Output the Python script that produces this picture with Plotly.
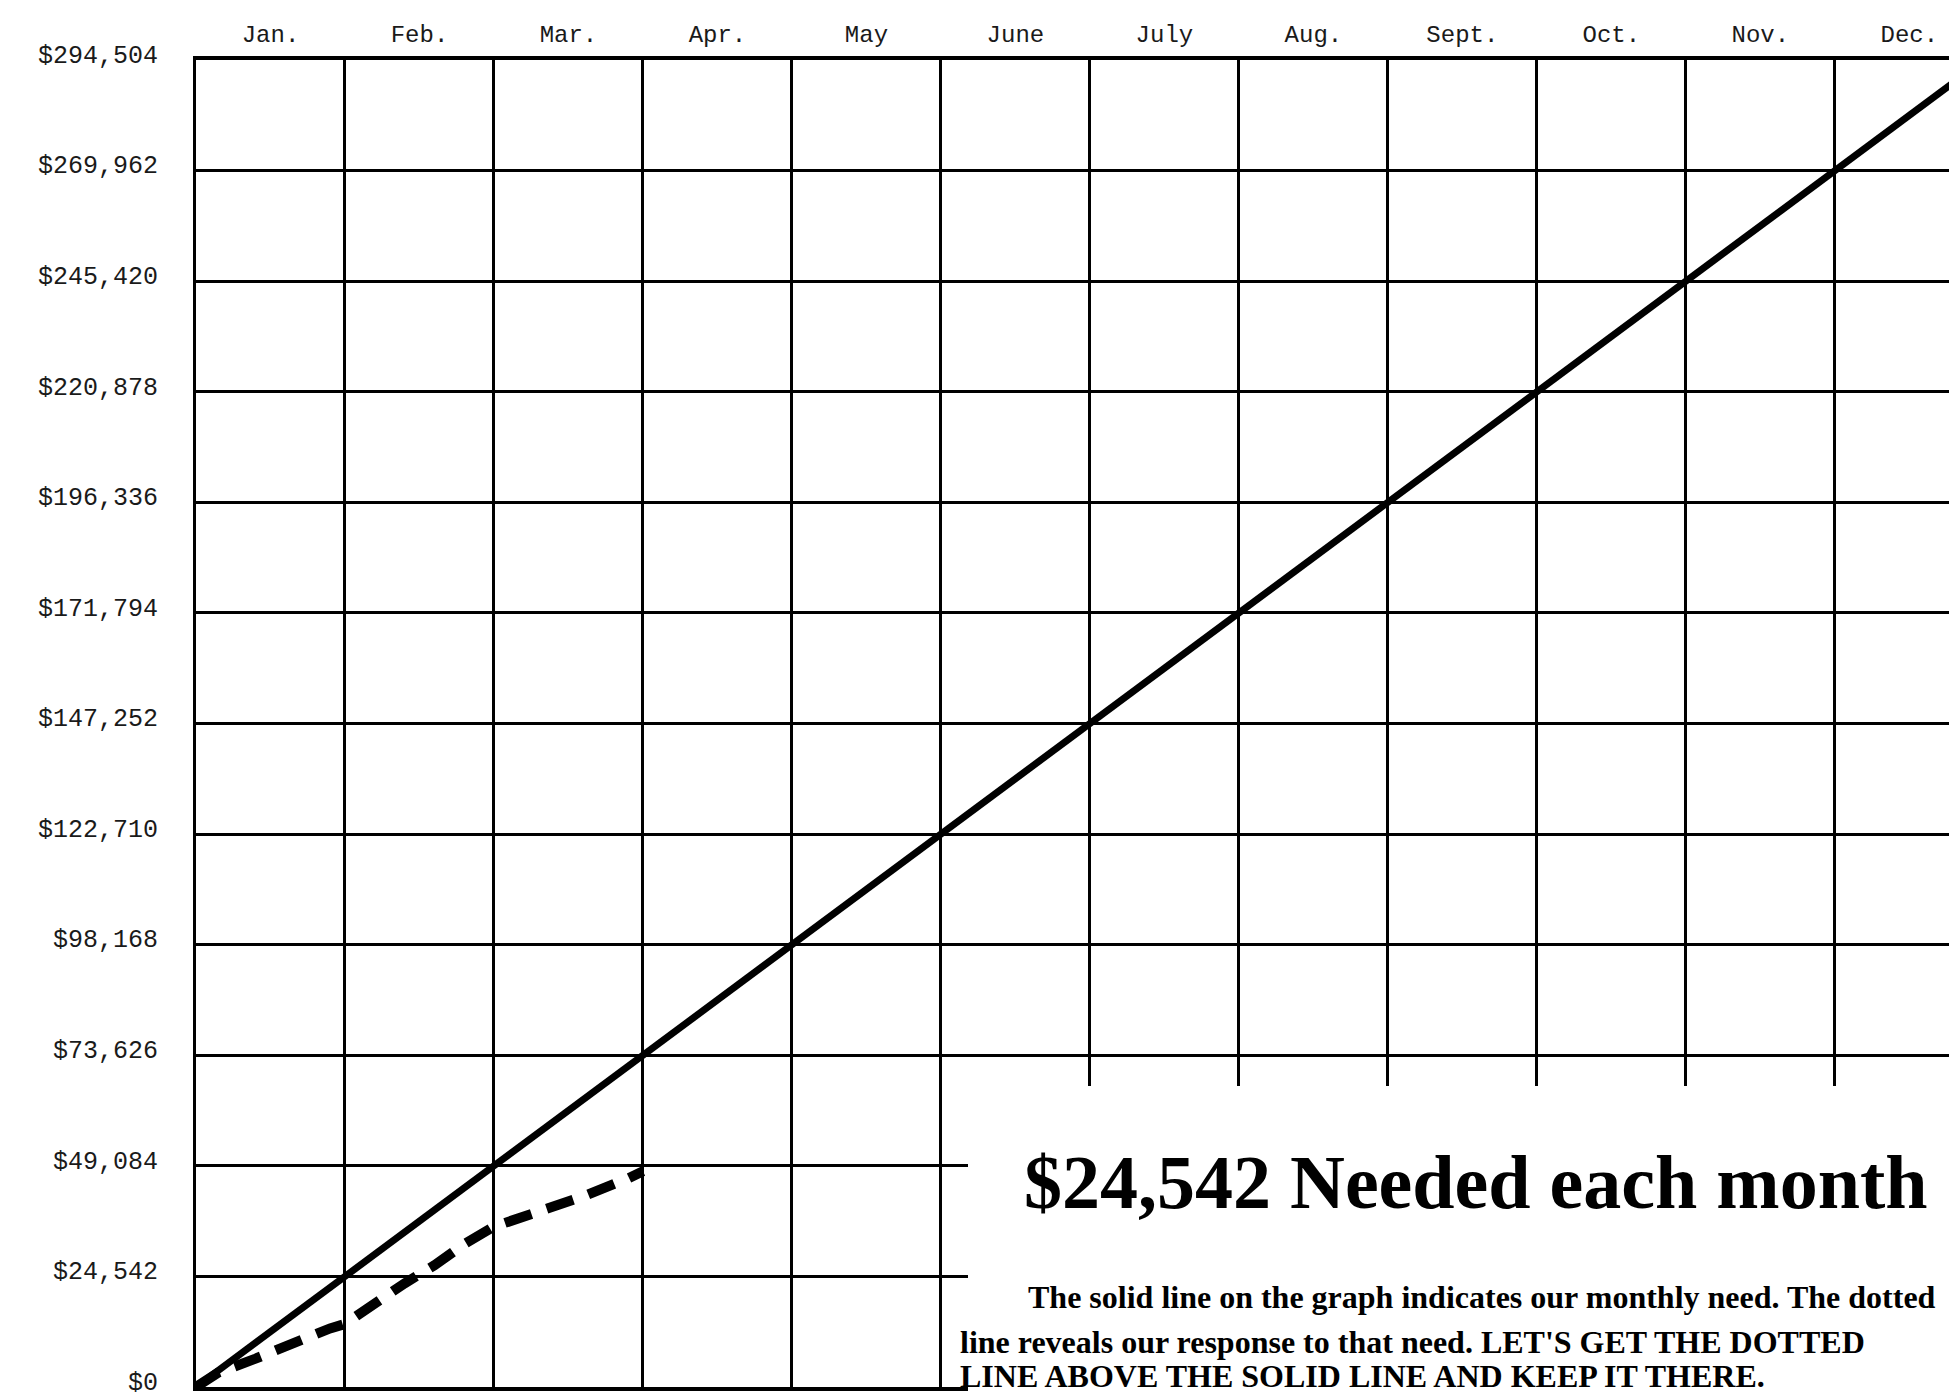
import plotly.graph_objects as go

# ---- data ----
months = ["Jan.", "Feb.", "Mar.", "Apr.", "May", "June", "July",
          "Aug.", "Sept.", "Oct.", "Nov.", "Dec."]
month_ends = [0, 1, 2, 3, 4, 5, 6, 7, 8, 9, 10, 11, 12]
need_cumulative = [0, 24542, 49084, 73626, 98168, 122710, 147252,
                   171794, 196336, 220878, 245420, 269962, 294504]
y_tick_labels = ["$0", "$24,542", "$49,084", "$73,626", "$98,168", "$122,710",
                 "$147,252", "$171,794", "$196,336", "$220,878", "$245,420",
                 "$269,962", "$294,504"]
response_month = [0, 0.15, 0.4, 0.65, 0.9, 1.0, 1.2, 1.4, 1.6, 1.8, 2.0, 2.3, 2.6, 2.9, 3.0]
response_value = [0, 3200, 6300, 9900, 13000, 14000, 18700, 23000, 27000, 31700,
                  35600, 38900, 42300, 46300, 47900]

headline = "$24,542 Needed each month"
body_lines = [
    "The solid line on the graph indicates our monthly need. The dotted",
    "line reveals our response to that need. LET'S GET THE DOTTED",
    "LINE ABOVE THE SOLID LINE AND KEEP IT THERE.",
]

# The page body has an 8px default margin, so the figure is drawn 8px in from
# the window's top-left corner; size and margins compensate for that.
OFF = 8
W, H = 1957 - OFF, 1398 - OFF
L, R, T, B = 196 - OFF, 0, 60 - OFF, 11
plot_w = W - L - R
plot_h = H - T - B

def px_x(px):  # screen pixel -> paper x
    return (px - OFF - L) / plot_w

def px_y(py):  # screen pixel -> paper y
    return (H - B - (py - OFF)) / plot_h

fig = go.Figure()

fig.add_trace(go.Scatter(
    x=month_ends, y=need_cumulative, mode="lines",
    line=dict(color="black", width=7), showlegend=False, hoverinfo="skip"))

fig.add_trace(go.Scatter(
    x=response_month, y=response_value, mode="lines",
    line=dict(color="black", width=10, dash="28px,16px"),
    showlegend=False, hoverinfo="skip"))

mono = "Liberation Mono, DejaVu Sans Mono, monospace"

fig.update_xaxes(
    range=[0, 11.82], side="top", automargin=False,
    tickmode="array", tickvals=[m + 0.5 for m in range(12)], ticktext=months,
    showgrid=False, zeroline=False,
    ticks="outside", ticklen=5, tickcolor="rgba(0,0,0,0)",
    tickfont=dict(family=mono, size=24, color="#1a1a1a"),
    showline=True, mirror=True, linecolor="black", linewidth=3.5,
    minor=dict(tickmode="array", tickvals=list(range(12)), showgrid=True,
               gridcolor="black", gridwidth=2.5, ticks=""),
)
fig.update_yaxes(
    range=[0, need_cumulative[-1]], automargin=False,
    tickmode="array", tickvals=need_cumulative, ticktext=y_tick_labels,
    showgrid=True, gridcolor="black", gridwidth=2.5, zeroline=False,
    ticks="outside", ticklen=30, tickcolor="rgba(0,0,0,0)",
    tickfont=dict(family=mono, size=25, color="#1a1a1a"),
    ticklabeloverflow="allow", ticklabelshift=-6,
    showline=True, linecolor="black", linewidth=3,
)

# white panel holding the text (covers the grid in the lower right)
fig.add_shape(type="rect", xref="paper", yref="paper",
              x0=px_x(968), x1=1.02, y0=-0.05, y1=px_y(1086),
              fillcolor="white", line=dict(width=0), layer="above")

serif = "Liberation Serif, Times New Roman, serif"
fig.add_annotation(xref="paper", yref="paper", x=px_x(1022), y=px_y(1182),
                   xanchor="left", yanchor="middle", showarrow=False,
                   text="<b>" + headline + "</b>",
                   font=dict(family=serif, size=76, color="black"))
body_pos = [(1026, 1297), (958, 1342), (958, 1376)]
for line, (bx, by) in zip(body_lines, body_pos):
    fig.add_annotation(xref="paper", yref="paper", x=px_x(bx), y=px_y(by),
                       xanchor="left", yanchor="middle", showarrow=False,
                       text="<b>" + line + "</b>",
                       font=dict(family=serif, size=32, color="black"))

fig.update_layout(
    width=W, height=H, autosize=False,
    margin=dict(l=L, r=R, t=T, b=B, pad=0),
    paper_bgcolor="white", plot_bgcolor="white",
    showlegend=False,
)

fig.write_html("out.html")
